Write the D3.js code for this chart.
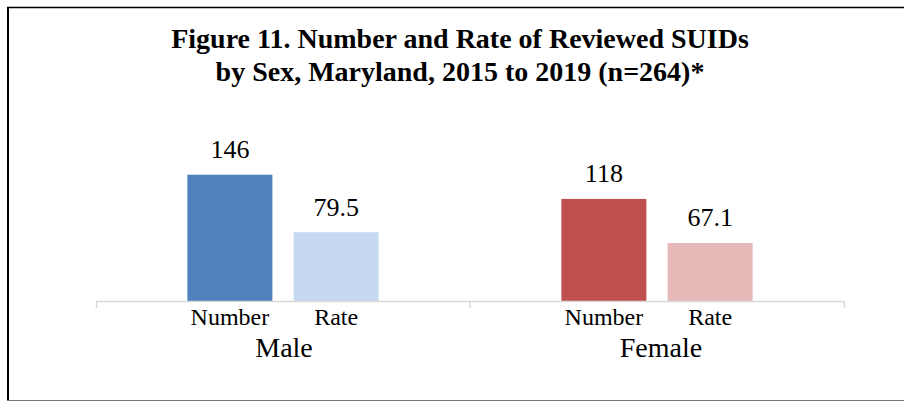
<!DOCTYPE html>
<html>
<head>
<meta charset="utf-8">
<script src="https://cdn.jsdelivr.net/npm/d3@7"></script>
<style>
  body { margin: 0; background: #fff; }
  svg { display: block; font-family: "Liberation Serif", "Times New Roman", serif; }
</style>
</head>
<body>
<svg width="904" height="401"></svg>
<script>
const categories = ["Male", "Female"];
const series = ["Number", "Rate"];
const numberValues = [146, 118];
const rateValues = [79.5, 67.1];
const valueLabels = [["146", "79.5"], ["118", "67.1"]];
const titleLines = [
  "Figure 11. Number and Rate of Reviewed SUIDs",
  "by Sex, Maryland, 2015 to 2019 (n=264)*"
];
const colors = {
  Male: { Number: "#4F81BD", Rate: "#C6D9F1" },
  Female: { Number: "#C0504D", Rate: "#E6B9B8" }
};

const svg = d3.select("svg");
const W = 904, H = 401;

// frame (right side is cut off in the original)
svg.append("line").attr("x1", 7).attr("x2", W).attr("y1", 7.5).attr("y2", 7.5)
  .attr("stroke", "#000").attr("stroke-width", 1.5);
svg.append("line").attr("x1", 8).attr("x2", 8).attr("y1", 7).attr("y2", H)
  .attr("stroke", "#000").attr("stroke-width", 2);
svg.append("line").attr("x1", 7).attr("x2", W).attr("y1", 400.5).attr("y2", 400.5)
  .attr("stroke", "#777").attr("stroke-width", 1);

// title
svg.append("text")
  .attr("text-anchor", "middle")
  .attr("font-weight", "bold")
  .attr("font-size", 28)
  .selectAll("tspan")
  .data(titleLines)
  .join("tspan")
  .attr("x", 460)
  .attr("y", (d, i) => 48 + i * 33)
  .text(d => d);

const data = categories.map((c, i) => ({
  category: c,
  values: [
    { key: "Number", value: numberValues[i], label: valueLabels[i][0] },
    { key: "Rate", value: rateValues[i], label: valueLabels[i][1] }
  ]
}));

const x0 = d3.scaleBand()
  .domain(categories)
  .range([96, 844])
  .padding(0);

const x1 = d3.scaleBand()
  .domain(series)
  .range([0, x0.bandwidth()])
  .paddingInner(0.2)
  .paddingOuter(0.86);

const y = d3.scaleLinear()
  .domain([0, 160])
  .range([301, 162.6]);

const groups = svg.append("g")
  .selectAll("g")
  .data(data)
  .join("g")
  .attr("transform", d => `translate(${x0(d.category)},0)`);

groups.selectAll("rect")
  .data(d => d.values.map(v => ({ ...v, category: d.category })))
  .join("rect")
  .attr("x", d => x1(d.key))
  .attr("y", d => y(d.value))
  .attr("width", x1.bandwidth())
  .attr("height", d => y(0) - y(d.value))
  .attr("fill", d => colors[d.category][d.key]);

groups.selectAll("text.val")
  .data(d => d.values)
  .join("text")
  .attr("class", "val")
  .attr("x", d => x1(d.key) + x1.bandwidth() / 2)
  .attr("y", d => y(d.value) - 16.5)
  .attr("text-anchor", "middle")
  .attr("font-size", 26)
  .attr("fill", "#000")
  .text(d => d.label);

groups.selectAll("text.ser")
  .data(series)
  .join("text")
  .attr("class", "ser")
  .attr("x", d => x1(d) + x1.bandwidth() / 2)
  .attr("y", 325)
  .attr("text-anchor", "middle")
  .attr("font-size", 24)
  .attr("fill", "#000")
  .text(d => d);

groups.append("text")
  .attr("x", (d, i) => x0.bandwidth() / 2 + (i ? 4 : 1))
  .attr("y", 357)
  .attr("text-anchor", "middle")
  .attr("font-size", 28)
  .attr("fill", "#000")
  .text(d => d.category);

// category axis with ticks on band boundaries
const axis = svg.append("g")
  .attr("transform", `translate(0,${y(0)})`)
  .call(d3.axisBottom(x0).tickSizeInner(0).tickSizeOuter(7).tickFormat(""));
axis.select(".domain").attr("stroke", "#D9D9D9").attr("stroke-width", 1.5);
axis.selectAll(".tick").remove();
axis.selectAll("line.bound")
  .data(categories.slice(1))
  .join("line")
  .attr("class", "bound")
  .attr("x1", d => x0(d)).attr("x2", d => x0(d))
  .attr("y1", 0).attr("y2", 7)
  .attr("stroke", "#D9D9D9").attr("stroke-width", 1.5);
</script>
</body>
</html>
